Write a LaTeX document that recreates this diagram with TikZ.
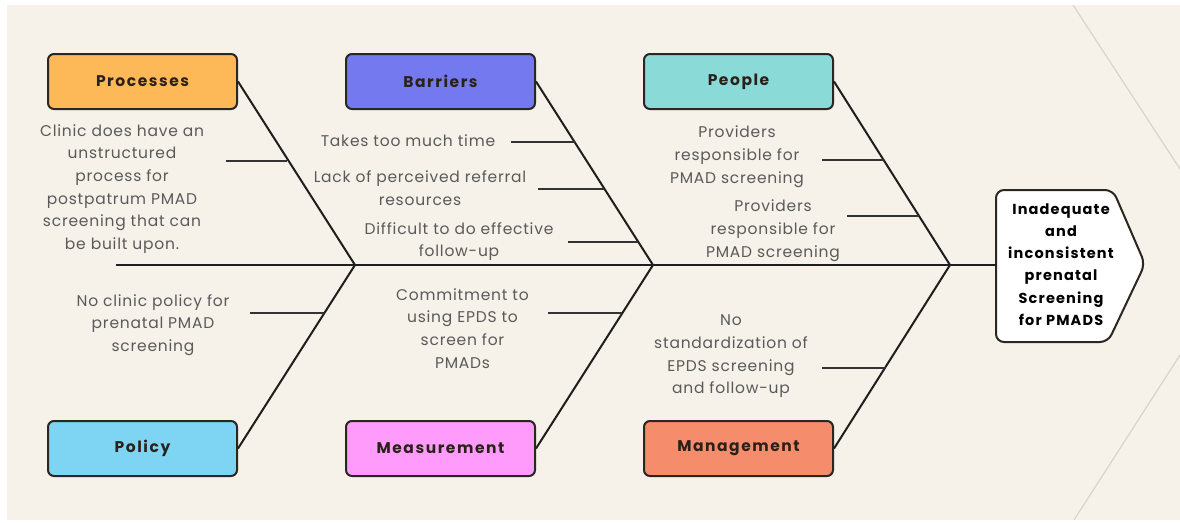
\documentclass[tikz,border=0pt]{standalone}
\usepackage{fontspec}
\usetikzlibrary{calc}
\newfontfamily\bodyfont{Poppins}[LetterSpace=5]
\newfontfamily\labfont{Poppins}[LetterSpace=10]
\newfontfamily\headfont{Poppins}[LetterSpace=8]
\definecolor{cream}{HTML}{F6F2E9}
\definecolor{faintline}{HTML}{D9D4CB}
\definecolor{boxline}{HTML}{2A2622}
\definecolor{boneline}{HTML}{1E1E1E}
\definecolor{ribline}{HTML}{333333}
\definecolor{bodytext}{HTML}{5A5A5A}
\definecolor{labeltext}{HTML}{2B211B}
\definecolor{cProc}{HTML}{FDB857}
\definecolor{cBarr}{HTML}{7579EF}
\definecolor{cPeop}{HTML}{8ADBD8}
\definecolor{cPoli}{HTML}{7DD4F3}
\definecolor{cMeas}{HTML}{FE9BFB}
\definecolor{cMana}{HTML}{F58C6C}
\begin{document}
\begin{tikzpicture}[x=1pt,y=-1pt,
  catbox/.style={draw=boxline, line width=2pt, rounded corners=6pt,
    minimum width=189pt, minimum height=55pt, inner sep=0pt,
    font=\labfont\bfseries\fontsize{15.5}{18}\selectfont, text=labeltext},
  bone/.style={draw=boneline, line width=2pt, line join=round},
  rib/.style={draw=ribline, line width=2.6pt},
  cause/.style={font=\bodyfont\fontsize{15.5}{22.7}\selectfont,
    text=bodytext, align=center, inner sep=0pt},
  faint/.style={draw=faintline, line width=1.2pt}]
\useasboundingbox (0,0) rectangle (1180,522);
% page and backdrop
\fill[white] (0,0) rectangle (1180,522);
\fill[cream] (7,5) rectangle (1180,520);
\draw[faint] (1073,5) -- (1180,169);
\draw[faint] (1180,355) -- (1074,520);

% category boxes
\node[catbox, fill=cProc] (proc) at (142.5,81.5) {Processes};
\node[catbox, fill=cBarr] (barr) at (440.5,81.5) {Barriers};
\node[catbox, fill=cPeop] (peop) at (738.5,81.5) {People};
\node[catbox, fill=cPoli] (poli) at (142.5,448.5) {Policy};
\node[catbox, fill=cMeas] (meas) at (440.5,448.5) {Measurement};
\node[catbox, fill=cMana] (mana) at (738.5,448.5) {Management};

% head of the fish
\coordinate (hA) at (996,190);
\coordinate (hB) at (1113,190);
\coordinate (hC) at (1145,264);
\coordinate (hD) at (1108,342);
\coordinate (hE) at (996,342);
\coordinate (hL) at (996,265);
\draw[fill=white, draw=boxline, line width=2pt, rounded corners=8pt]
  (hA) -- (hB) -- (hC) -- (hD) -- (hE) -- cycle;
\node[font=\headfont\bfseries\fontsize{14.5}{22.2}\selectfont, text=black,
  align=center, inner sep=0pt] (head) at (1061,264.5)
  {Inadequate\\and\\inconsistent\\prenatal\\Screening\\for PMADS};

% spine and junctions
\coordinate (tail) at (116,265);
\coordinate (j1) at (355,265);
\coordinate (j2) at (653,265);
\coordinate (j3) at (950,265);
\draw[bone] (tail) -- (hL);
\draw[bone] (proc.east) -- (j1) -- (poli.east);
\draw[bone] (barr.east) -- (j2) -- (meas.east);
\draw[bone] (peop.east) -- (j3) -- (mana.east);

% ribs
\coordinate (p1a) at (226,161); \coordinate (p1b) at (287,161);
\coordinate (b1a) at (511,142); \coordinate (b1b) at (575,142);
\coordinate (b2a) at (538,189); \coordinate (b2b) at (604,189);
\coordinate (b3a) at (568,242); \coordinate (b3b) at (638,242);
\coordinate (e1a) at (822,160); \coordinate (e1b) at (884,160);
\coordinate (e2a) at (847,216); \coordinate (e2b) at (919,216);
\coordinate (o1a) at (250,313); \coordinate (o1b) at (324,313);
\coordinate (m1a) at (548,313); \coordinate (m1b) at (622,313);
\coordinate (g1a) at (822,368); \coordinate (g1b) at (886,368);
\foreach \r in {p1,b1,b2,b3,e1,e2,o1,m1,g1}
  \draw[rib] (\r a) -- (\r b);

% causes
\node[cause] (tp1) at (122,189) {Clinic does have an\\unstructured\\process for\\postpatrum PMAD\\screening that can\\be built upon.};
\node[cause] (tb1) at (408,140.5) {Takes too much time};
\node[cause] (tb2) at (420,188) {Lack of perceived referral\\resources};
\node[cause] (tb3) at (459,241.5) {Difficult to do effective\\follow-up};
\node[cause] (te1) at (737,156.5) {Providers\\responsible for\\PMAD screening};
\node[cause] (te2) at (773,230.5) {Providers\\responsible for\\PMAD screening};
\node[cause] (to1) at (153,325) {No clinic policy for\\prenatal PMAD\\screening};
\node[cause] (tm1) at (462.5,328.3) {Commitment to\\using EPDS to\\screen for\\PMADs};
\node[cause] (tg1) at (731,356.5) {No\\standardization of\\EPDS screening\\and follow-up};
\end{tikzpicture}
\end{document}
